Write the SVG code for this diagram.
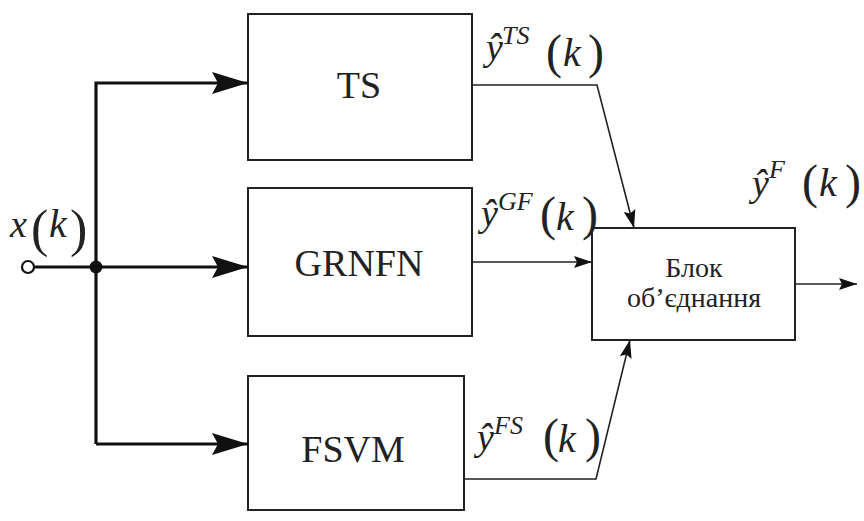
<svg xmlns="http://www.w3.org/2000/svg" width="864" height="521" viewBox="0 0 864 521">
<defs>
<style>
.box{fill:#fff;stroke:#222;stroke-width:2}
.thick{fill:none;stroke:#111;stroke-width:3.2}
.thin{fill:none;stroke:#222;stroke-width:1.6}
.lbl{fill:#222}
.it{font-style:italic}
.sup{font-style:italic;font-size:26px}
.par{font-size:48px}
.k{font-style:italic;font-size:40px}
</style>
<marker id="big" markerUnits="userSpaceOnUse" markerWidth="40" markerHeight="24" refX="36" refY="12" orient="auto"><path d="M0,1 L36,12 L0,23 L6,12 Z" fill="#111"/></marker>
<marker id="small" markerUnits="userSpaceOnUse" markerWidth="20" markerHeight="14" refX="18" refY="7" orient="auto"><path d="M0,1 L18,7 L0,13 L3,7 Z" fill="#111"/></marker>
</defs>
<g font-family="'Liberation Serif', 'Times New Roman', 'DejaVu Serif', serif">
<g id="ts"><rect class="box" x="248" y="14" width="224" height="146"/><text class="lbl" x="359" y="98" font-size="38" text-anchor="middle">TS</text></g>
<g id="grnfn"><rect class="box" x="248" y="188" width="224" height="148"/><text class="lbl" x="359" y="276" font-size="38" text-anchor="middle">GRNFN</text></g>
<g id="fsvm"><rect class="box" x="248" y="376" width="216" height="134"/><text class="lbl" x="353" y="462" font-size="38" text-anchor="middle">FSVM</text></g>
<g id="combine"><rect class="box" x="592" y="228" width="203" height="112"/><text class="lbl" x="694" y="277" font-size="28" text-anchor="middle">Блок</text><text class="lbl" x="694" y="307" font-size="28" text-anchor="middle">об’єднання</text></g>
<g id="input"><circle cx="28" cy="267" r="6" fill="#fff" stroke="#111" stroke-width="2.2"/><circle cx="96" cy="267" r="6.5" fill="#111"/>
<text class="lbl" font-size="38"><tspan class="it" x="10" y="237">x</tspan><tspan font-size="52" x="31" y="246">(</tspan><tspan class="k" x="49" y="237">k</tspan><tspan font-size="52" x="70" y="246">)</tspan></text></g>
<g id="connectors">
<path class="thick" d="M34,267 H248" marker-end="url(#big)"/>
<path class="thick" d="M96,444 V83 H248" marker-end="url(#big)"/>
<path class="thick" d="M96,444 H248" marker-end="url(#big)"/>
<path class="thin" d="M472,85 H597 L634,228" marker-end="url(#small)"/>
<path class="thin" d="M472,262 H592" marker-end="url(#small)"/>
<path class="thin" d="M464,479 H596 L630,340" marker-end="url(#small)"/>
<path class="thin" d="M795,284 H857" marker-end="url(#small)"/>
</g>
<g id="labels">
<text class="lbl" font-size="38"><tspan class="it" x="486" y="60">ŷ</tspan><tspan class="sup" x="502" y="44">TS</tspan><tspan class="par" x="546" y="68">(</tspan><tspan class="k" x="563" y="66">k</tspan><tspan class="par" x="588" y="68">)</tspan></text>
<text class="lbl" font-size="38"><tspan class="it" x="481" y="226">ŷ</tspan><tspan class="sup" x="498" y="210">GF</tspan><tspan class="par" x="540" y="230">(</tspan><tspan class="k" x="556" y="230">k</tspan><tspan class="par" x="582" y="230">)</tspan></text>
<text class="lbl" font-size="38"><tspan class="it" x="477" y="450">ŷ</tspan><tspan class="sup" x="494" y="434">FS</tspan><tspan class="par" x="543" y="452">(</tspan><tspan class="k" x="558" y="452">k</tspan><tspan class="par" x="585" y="452">)</tspan></text>
<text class="lbl" font-size="38"><tspan class="it" x="752" y="196">ŷ</tspan><tspan class="sup" x="769" y="178">F</tspan><tspan class="par" x="802" y="198">(</tspan><tspan class="k" x="819" y="196">k</tspan><tspan class="par" x="845" y="198">)</tspan></text>
</g>
</g>
</svg>
